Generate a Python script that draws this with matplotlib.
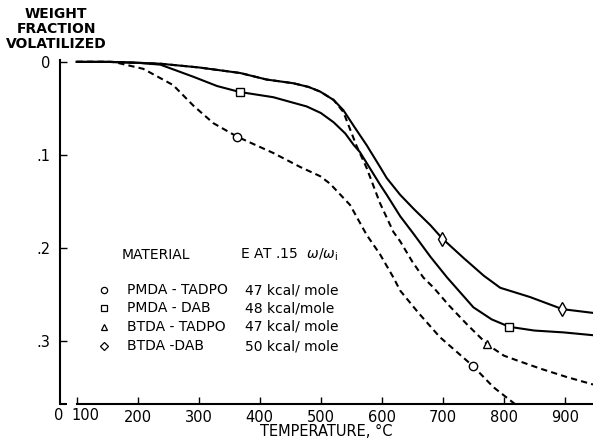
import matplotlib
matplotlib.use("Agg")
import matplotlib.pyplot as plt

# weight fraction volatilized vs temperature
# PMDA-TADPO (circle, dashed)
t_pmda_tadpo = [100, 160, 209, 258, 291, 324, 363, 422, 466, 499, 515, 548, 575, 597, 619, 630, 660, 695, 749, 783, 818]
w_pmda_tadpo = [0.0, 0.0, 0.0075, 0.025, 0.047, 0.066, 0.0805, 0.098, 0.113, 0.123, 0.131, 0.154, 0.186, 0.207, 0.232, 0.246, 0.270, 0.296, 0.327, 0.350, 0.368]

# PMDA-DAB (square, solid)
t_pmda_dab = [100, 150, 200, 237, 291, 330, 367, 422, 477, 500, 521, 540, 554, 564, 581, 597, 608, 630, 652, 680, 707, 750, 780, 809, 850, 898, 946]
w_pmda_dab = [0.0, 0.0, 0.001, 0.003, 0.016, 0.026, 0.0324, 0.038, 0.048, 0.055, 0.065, 0.077, 0.0895, 0.097, 0.115, 0.132, 0.143, 0.166, 0.185, 0.210, 0.232, 0.264, 0.277, 0.285, 0.289, 0.291, 0.294]

# BTDA-TADPO (triangle, dashed) - runs on top of BTDA-DAB below ~540
t_btda_tadpo = [100, 150, 200, 237, 300, 368, 411, 455, 480, 499, 521, 537, 558, 575, 597, 619, 630, 650, 668, 685, 710, 739, 773, 800, 821, 860, 903, 946]
w_btda_tadpo = [0.0, 0.0, 0.001, 0.002, 0.006, 0.012, 0.019, 0.023, 0.027, 0.032, 0.041, 0.054, 0.0895, 0.114, 0.152, 0.183, 0.193, 0.215, 0.232, 0.243, 0.262, 0.282, 0.304, 0.316, 0.321, 0.330, 0.339, 0.347]

# BTDA-DAB (diamond, solid)
t_btda_dab = [100, 150, 200, 237, 300, 368, 411, 455, 480, 499, 521, 537, 555, 575, 597, 608, 630, 652, 680, 699, 734, 767, 794, 843, 896, 946]
w_btda_dab = [0.0, 0.0, 0.001, 0.002, 0.006, 0.012, 0.019, 0.023, 0.027, 0.032, 0.041, 0.052, 0.070, 0.0895, 0.113, 0.125, 0.143, 0.158, 0.176, 0.190, 0.211, 0.230, 0.243, 0.253, 0.266, 0.270]

# where the open markers sit on each curve
mark_pmda_tadpo = ([363, 749], [0.0805, 0.327])
mark_pmda_dab = ([367, 809], [0.0324, 0.285])
mark_btda_tadpo = ([773], [0.304])
mark_btda_dab = ([699, 896], [0.190, 0.266])

materials = ["PMDA - TADPO", "PMDA - DAB", "BTDA - TADPO", "BTDA -DAB"]
energies = ["47 kcal/ mole", "48 kcal/mole", "47 kcal/ mole", "50 kcal/ mole"]
legend_markers = ["o", "s", "^", "D"]

x_ticks = [100, 200, 300, 400, 500, 600, 700, 800, 900]
x_ticklabels = ["", "200", "300", "400", "500", "600", "700", "800", "900"]
y_ticks = [0.0, 0.1, 0.2, 0.3]
y_ticklabels = ["0", ".1", ".2", ".3"]

W, H = 593, 441
fig = plt.figure(figsize=(W / 100, H / 100), dpi=100)
# axes box in pixels: left 60, right 593, top 60, bottom 404
ax = fig.add_axes([60 / W, 1 - 404 / H, 533 / W, 344 / H])

lw = 1.5
dash = (3, 2)
ax.plot(t_btda_dab, w_btda_dab, color="black", lw=lw)
ax.plot(t_pmda_dab, w_pmda_dab, color="black", lw=lw)
ax.plot(t_btda_tadpo, w_btda_tadpo, color="black", lw=lw, dashes=dash)
ax.plot(t_pmda_tadpo, w_pmda_tadpo, color="black", lw=lw, dashes=dash)

mk = dict(color="black", ls="none", mfc="white", mew=1.0, zorder=5)
ax.plot(*mark_pmda_tadpo, marker="o", ms=6, **mk)
ax.plot(*mark_pmda_dab, marker="s", ms=6, **mk)
ax.plot(*mark_btda_tadpo, marker="^", ms=6, **mk)
ax.plot(*mark_btda_dab, marker="d", ms=7, **mk)

x_lo, x_hi = 72.6, 946
y_lo, y_hi = 0.368, -0.002
ax.set_xlim(x_lo, x_hi)
ax.set_ylim(y_lo, y_hi)

for s in ["top", "right"]:
    ax.spines[s].set_visible(False)
for s in ["left", "bottom"]:
    ax.spines[s].set_linewidth(1.5)
# broken x axis: short corner piece, gap, then axis from 100 on
ax.spines["bottom"].set_bounds(100, x_hi)
ax.plot([x_lo, 84], [y_lo, y_lo], color="black", lw=1.5, clip_on=False, solid_capstyle="butt")

ax.set_xticks(x_ticks)
ax.set_xticklabels(x_ticklabels)
ax.set_yticks(y_ticks)
ax.set_yticklabels(y_ticklabels)
ax.tick_params(axis="both", direction="in", length=5, width=1.0, labelsize=10.5)
ax.tick_params(axis="y", pad=7)
ax.tick_params(axis="x", pad=4)

def px(x, y):
    return x / W, 1 - y / H

# "0" at the corner of the broken axis, and the 100 label nudged right of its tick
fig.text(*px(59, 416), "0", ha="center", va="center", fontsize=10.5)
fig.text(*px(85, 416), "100", ha="center", va="center", fontsize=10.5)

fig.text(*px(56, 29), "WEIGHT\nFRACTION\nVOLATILIZED", ha="center", va="center",
         fontsize=10, fontweight="bold", linespacing=1.05)
fig.text(*px(326, 432), "TEMPERATURE, \u00b0C", ha="center", va="center", fontsize=10.5)

# legend block
fig.text(*px(122, 255), "MATERIAL", ha="left", va="center", fontsize=10)
fig.text(*px(240, 255), r"E AT .15  $\omega/\omega_{\rm i}$", ha="left", va="center", fontsize=10)
rows_y = [290, 308, 327, 346]
for name, e, m, yy in zip(materials, energies, legend_markers, rows_y):
    fx, fy = px(104, yy)
    ax.plot([fx], [fy], marker=m, ms=4.5 if m != "D" else 3.8, mfc="white", mec="black",
            mew=0.9, transform=fig.transFigure, clip_on=False)
    fig.text(*px(127, yy), name, ha="left", va="center", fontsize=10)
    fig.text(*px(245, yy), e, ha="left", va="center", fontsize=10)

fig.savefig("out.png", dpi=100)
